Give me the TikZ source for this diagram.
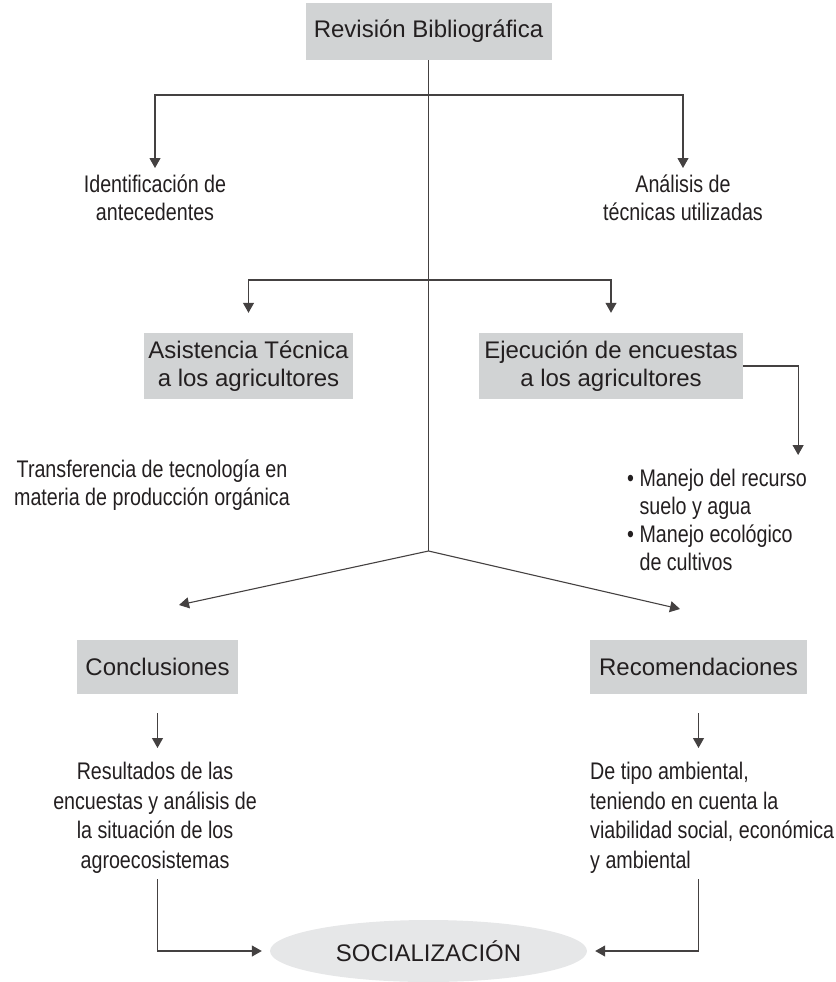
\documentclass[tikz,border=0pt]{standalone}
\usepackage{fontspec}
\setmainfont{Liberation Sans}
\newfontfamily\narrowfont[FakeStretch=0.82]{Liberation Sans}
\usetikzlibrary{arrows.meta,shapes.geometric}
\definecolor{boxgray}{RGB}{209,211,212}
\definecolor{ellgray}{RGB}{230,231,232}
\definecolor{ink}{RGB}{35,31,32}
\tikzset{
    RG/.style ={rectangle, fill=boxgray, inner sep=0pt, align=center, font=\fontsize{24}{28}\selectfont},
    TX/.style ={inner sep=0pt, font=\narrowfont\fontsize{24}{#1}\selectfont},
    TX/.default=28,
    EL/.style ={ellipse, fill=ellgray, minimum width=317pt, minimum height=62pt, inner sep=0pt, font=\fontsize{24}{28}\selectfont},
    LN/.style ={line width=1.1pt, draw=ink!85},
    AR/.style ={LN, -{Triangle[length=10pt,width=11pt]}}}
\begin{document}
\begin{tikzpicture}[x=1pt,y=-1pt,every node/.append style={text=ink}]
        \useasboundingbox (0,0) rectangle (835,982);
        \node[RG,minimum width=246pt,minimum height=57pt] (1) at(428.5,31.5){Revisión Bibliográfica};
        \node[TX,anchor=north,align=center] (2) at(155,175){Identificación de\\antecedentes};
        \node[TX,anchor=north,align=center] (3) at(683,175){Análisis de\\técnicas utilizadas};
        \node[RG,minimum width=209pt,minimum height=66pt] (4) at(248.5,366){Asistencia Técnica\\a los agricultores};
        \node[RG,minimum width=264pt,minimum height=66pt] (5) at(611,366){Ejecución de encuestas\\a los agricultores};
        \node[TX,anchor=north,align=center] (6) at(152,460){Transferencia de tecnología en\\materia de producción orgánica};
        \node[TX,anchor=north west,align=left] (7) at(627,469){• Manejo del recurso\\\hphantom{• }suelo y agua\\• Manejo ecológico\\\hphantom{• }de cultivos};
        \node[RG,minimum width=161pt,minimum height=54pt] (8) at(157.5,667){Conclusiones};
        \node[RG,minimum width=217pt,minimum height=54pt] (9) at(698.5,667){Recomendaciones};
        \node[TX=29.5,anchor=north,align=center] (10) at(155,762){Resultados de las\\encuestas y análisis de\\la situación de los\\agroecosistemas};
        \node[TX=29.5,anchor=north west,align=left] (11) at(590,762){De tipo ambiental,\\teniendo en cuenta la\\viabilidad social, económica\\y ambiental};
        \node[EL] (12) at(428.5,951){SOCIALIZACIÓN};
        \coordinate (s) at(428.5,551);
        \coordinate (a) at(428.5,95);
        \coordinate (b) at(428.5,280);
        \coordinate (l) at(179,605);
        \coordinate (r) at(680,609);
        \draw[LN] (1) --(s);
        \draw[AR,shorten >=7pt] (a) -|(2);
        \draw[AR,shorten >=7pt] (a) -|(3);
        \draw[AR,shorten >=20pt] (b) -|(4);
        \draw[AR,shorten >=20pt] (b) -|(5);
        \draw[AR,shorten >=14pt] (5.east) -|([xshift=-9pt]7.north east);
        \draw[AR] (s) --(l);
        \draw[AR] (s) --(r);
        \draw[AR,shorten <=19pt,shorten >=14pt] (8.south) --(8.south |- 10.north);
        \draw[AR,shorten <=19pt,shorten >=14pt] (9.south) --(9.south |- 11.north);
        \draw[AR,shorten <=6pt,shorten >=8pt] (10.south -| 8.south) |-(12.west);
        \draw[AR,shorten <=6pt,shorten >=8pt] (11.south -| 9.south) |-(12.east);
    \end{tikzpicture}
\end{document}
